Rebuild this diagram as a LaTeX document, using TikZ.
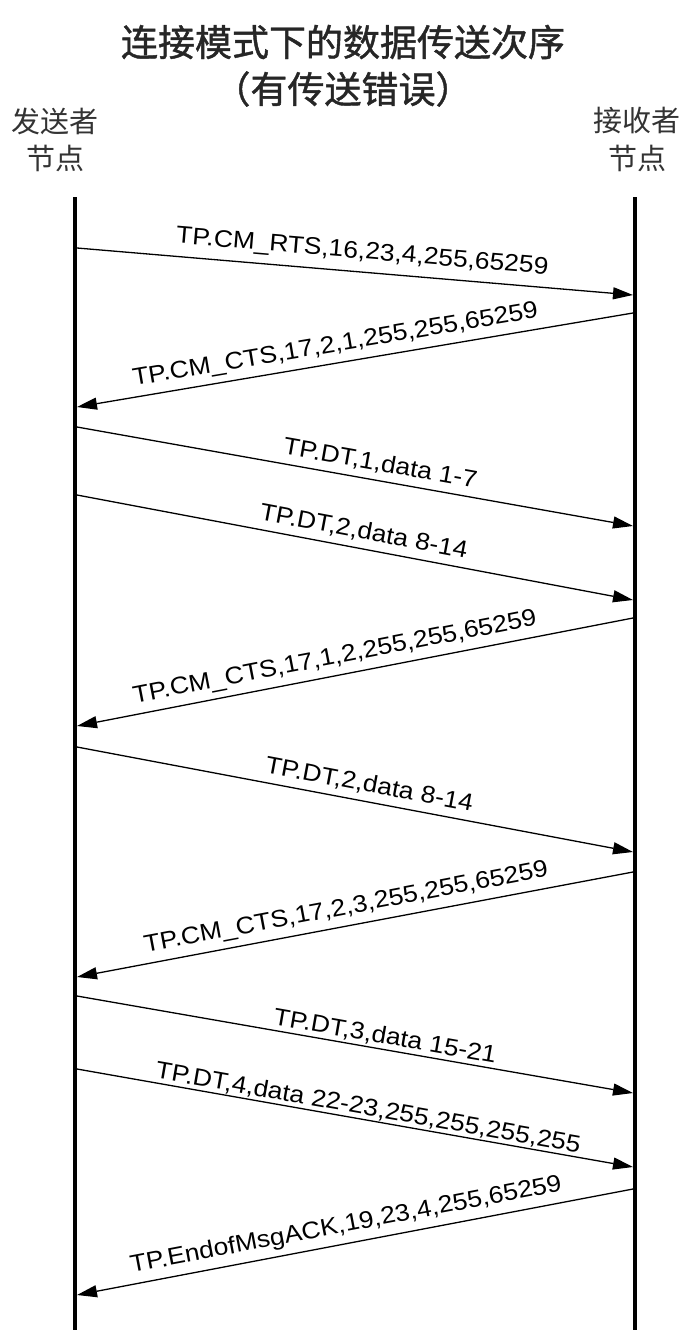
\documentclass[tikz,border=0pt]{standalone}
\usepackage{fontspec}
\setmainfont{Liberation Sans}
\newfontfamily\lblfont[FakeStretch=1.1]{Liberation Sans}
\newfontfamily\cjkfont{Noto Sans CJK SC}
\newfontfamily\cjktitlefont[FakeBold=1.2]{Noto Sans CJK SC}
\usetikzlibrary{arrows.meta}

\tikzset{
    lifeline/.style={line width=4pt},
    msg/.style={line width=1.3pt, -{Triangle[length=20pt,width=12pt]}},
    msgback/.style={line width=1.3pt, {Triangle[length=20pt,width=12pt]}-},
    msglabel/.style={sloped, inner sep=0pt, font=\lblfont\fontsize{24}{28}\selectfont},
    titletext/.style={font=\cjktitlefont\fontsize{37}{42}\selectfont, text=black!85},
    headtext/.style={font=\cjkfont\fontsize{29}{34}\selectfont, text=black!80}
}

\begin{document}
\begin{tikzpicture}[x=1pt,y=-1pt]
    \useasboundingbox (0,0) rectangle (685,1330);

    % title
    \node[titletext] (title1) at (343,42) {连接模式下的数据传送次序};
    \node[titletext] (title2) at (343,89) {（有传送错误）};

    % node headings
    \node[headtext] (sndname) at (55,121) {发送者};
    \node[headtext] (sndnode) at (55,158) {节点};
    \node[headtext] (rcvname) at (637,121) {接收者};
    \node[headtext] (rcvnode) at (637,158) {节点};

    % lifelines
    \coordinate (sndtop) at (75,197);
    \coordinate (sndbot) at (75,1330);
    \coordinate (rcvtop) at (635,197);
    \coordinate (rcvbot) at (635,1330);
    \draw[lifeline] (sndtop) -- (sndbot);
    \draw[lifeline] (rcvtop) -- (rcvbot);

    % message end points on the sender side
    \coordinate (s1) at (77,248);
    \coordinate (s2) at (77,407);
    \coordinate (s3) at (77,427);
    \coordinate (s4) at (77,495);
    \coordinate (s5) at (77,726);
    \coordinate (s6) at (77,747);
    \coordinate (s7) at (77,977);
    \coordinate (s8) at (77,996);
    \coordinate (s9) at (77,1069);
    \coordinate (s10) at (77,1295);
    % message end points on the receiver side
    \coordinate (r1) at (633,295);
    \coordinate (r2) at (633,313);
    \coordinate (r3) at (633,526);
    \coordinate (r4) at (633,600);
    \coordinate (r5) at (633,618);
    \coordinate (r6) at (633,852);
    \coordinate (r7) at (633,872);
    \coordinate (r8) at (633,1093);
    \coordinate (r9) at (633,1167);
    \coordinate (r10) at (633,1189);

    % messages
    \draw[msg] (s1) -- (r1)
        node[msglabel, pos=0.51, above=8pt] {TP.CM\_RTS,16,23,4,255,65259};
    \draw[msgback] (s2) -- (r2)
        node[msglabel, pos=0.47, above=6pt] {TP.CM\_CTS,17,2,1,255,255,65259};
    \draw[msg] (s3) -- (r3)
        node[msglabel, pos=0.54, above=6pt] {TP.DT,1,data 1-7};
    \draw[msg] (s4) -- (r4)
        node[msglabel, pos=0.51, above=6pt] {TP.DT,2,data 8-14};
    \draw[msgback] (s5) -- (r5)
        node[msglabel, pos=0.47, above=6pt] {TP.CM\_CTS,17,1,2,255,255,65259};
    \draw[msg] (s6) -- (r6)
        node[msglabel, pos=0.52, above=6pt] {TP.DT,2,data 8-14};
    \draw[msgback] (s7) -- (r7)
        node[msglabel, pos=0.49, above=6pt] {TP.CM\_CTS,17,2,3,255,255,65259};
    \draw[msg] (s8) -- (r8)
        node[msglabel, pos=0.55, above=2pt] {TP.DT,3,data 15-21};
    \draw[msg] (s9) -- (r9)
        node[msglabel, pos=0.52, above=1pt] {TP.DT,4,data 22-23,255,255,255,255};
    \draw[msgback] (s10) -- (r10)
        node[msglabel, pos=0.49, above=6pt] {TP.EndofMsgACK,19,23,4,255,65259};

\end{tikzpicture}
\end{document}
